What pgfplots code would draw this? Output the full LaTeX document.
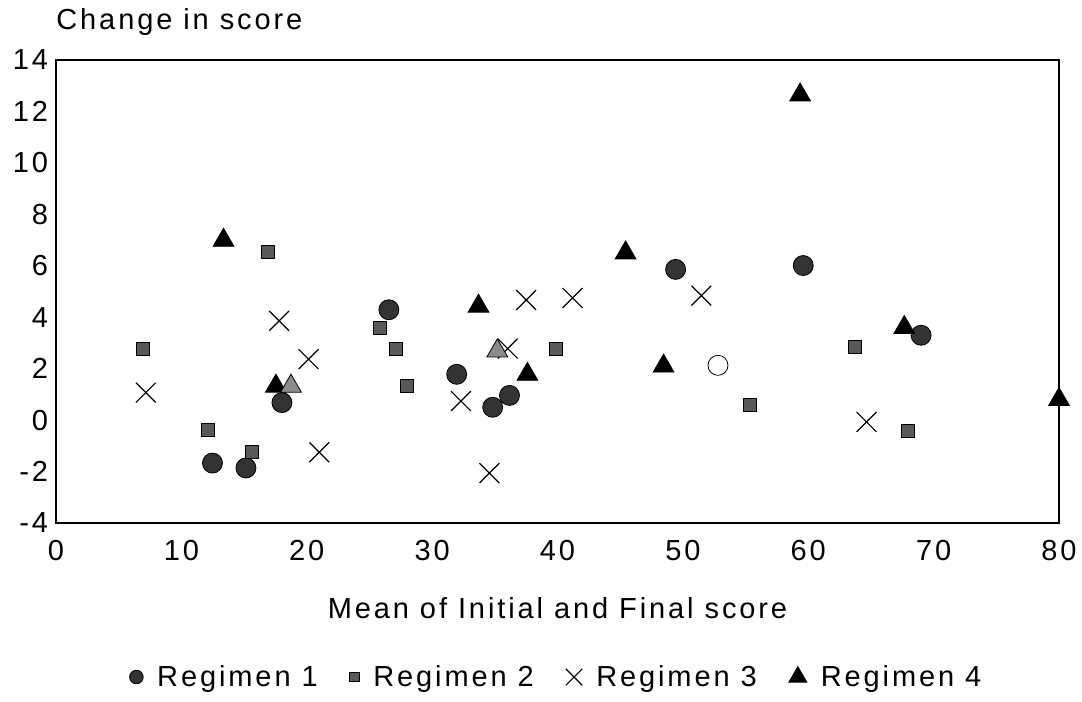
\documentclass[border=0pt]{standalone}
\usepackage{fontspec}
\setmainfont{Liberation Sans}[LetterSpace=10]
\usepackage{pgfplots}
\pgfplotsset{compat=1.18}
\pgfplotsset{legmark/.style={legend image code/.code={\draw[##1, mark size=#1] plot coordinates {(0cm,0cm)};}}}
\newcommand{\chartfont}{\fontsize{14.5}{17}\selectfont}
\begin{document}
\begin{tikzpicture}
\begin{axis}[
  name=ax,
  scale only axis,
  width=501.5pt, height=231.5pt,
  xmin=0, xmax=80, ymin=-4, ymax=14,
  xtick={0,10,...,80}, ytick={-4,-2,...,14},
  major tick length=0pt,
  axis line style={line width=0.6pt},
  clip=false,
  /pgf/number format/assume math mode=true,
  tick label style={font=\chartfont},
  xticklabel style={yshift=-5pt},
  yticklabel style={xshift=-0.5pt},
  xlabel={Mean of Initial and Final score},
  xlabel style={at={(axis description cs:0.5,0)}, anchor=base, yshift=-47.5pt, font=\chartfont},
  legend columns=4,
  legend style={draw=none, fill=none, at={(axis description cs:0.5,0)}, anchor=center, yshift=-77pt, font=\chartfont},
  legend cell align=left,
  /tikz/every odd column/.append style={column sep=5pt},
  /tikz/every even column/.append style={column sep=14pt},
]
% Regimen 1
\addplot[only marks, mark=*, mark size=5pt, draw=black, fill=black!80, legmark=3.4pt] coordinates {
(12.48,-1.67) (15.15,-1.86) (18.02,0.68) (26.55,4.29) (31.96,1.78)
(34.83,0.50) (36.17,0.96) (49.42,5.86) (59.6,6.01) (69.0,3.30)
};
\addlegendentry{Regimen 1}
% Regimen 2
\addplot[only marks, mark=square*, mark size=3.25pt, draw=black, fill=black!65, legmark=2.4pt] coordinates {
(6.95,2.75) (16.87,6.54) (25.87,3.57) (27.1,2.76) (27.97,1.32)
(12.08,-0.37) (15.62,-1.25) (39.84,2.75) (55.33,0.58) (63.72,2.84) (67.93,-0.40)
};
\addlegendentry{Regimen 2}
% Regimen 3
\addplot[only marks, mark=x, mark size=7pt, draw=black, line width=0.6pt, legmark=5.8pt] coordinates {
(7.16,1.07) (17.8,3.86) (20.14,2.37) (21.0,-1.25) (32.3,0.74)
(34.57,-2.06) (36.03,2.78) (37.5,4.67) (41.2,4.75) (51.47,4.84) (64.65,-0.07)
};
\addlegendentry{Regimen 3}
% Regimen 4
\addplot[only marks, mark=triangle*, mark size=6pt, draw=black, fill=black, legmark=5.2pt] coordinates {
(13.36,6.99) (17.54,1.32) (33.7,4.43) (37.6,1.78) (45.43,6.5)
(48.46,2.1) (59.35,12.64) (67.66,3.6) (80.0,0.8)
};
\addlegendentry{Regimen 4}
% lighter printed marks
\addplot[forget plot, only marks, mark=triangle*, mark size=6pt, draw=black, fill=black!45] coordinates {
(18.74,1.32) (35.2,2.69)
};
\addplot[forget plot, only marks, mark=*, mark size=5pt, draw=black, fill=white] coordinates {
(52.8,2.13)
};
\node[anchor=base west, font=\chartfont, inner sep=0pt] at (rel axis cs:0,1) [yshift=15pt] {Change in score};
\end{axis}
\pgfresetboundingbox
\path[use as bounding box] ([shift={(-28pt,-89pt)}]ax.south west) rectangle ([shift={(11.5pt,30pt)}]ax.north east);
\end{tikzpicture}
\end{document}
